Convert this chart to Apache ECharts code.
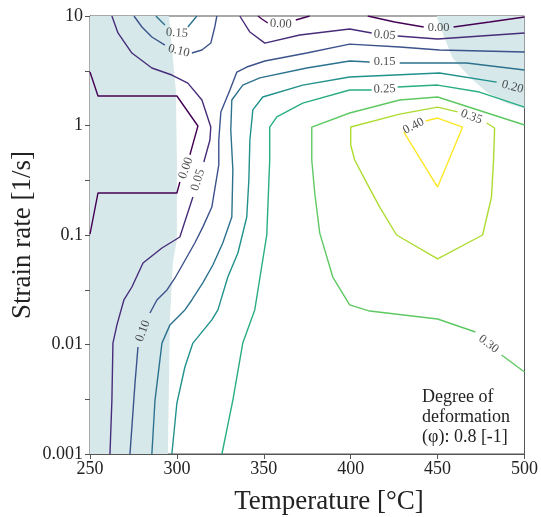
<!DOCTYPE html>
<html><head><meta charset="utf-8">
<script src="https://cdn.jsdelivr.net/npm/echarts/dist/echarts.min.js"></script>
<style>html,body{margin:0;padding:0;background:#fff}#c{width:541px;height:517px}</style>
</head><body><div id="c"></div>
<script>
// ---------- data (Temperature [°C], Strain rate [1/s]) ----------
const temperatureTicks = [250, 300, 350, 400, 450, 500];
const strainRateTicks = [0.001, 0.01, 0.1, 1, 10];
const strainRateTickLabels = ['0.001', '0.01', '0.1', '1', '10'];
const levels = [0.00, 0.05, 0.10, 0.15, 0.20, 0.25, 0.30, 0.35, 0.40];

const contour000 = [
  [[250,3.08],[254.6,1.86],[300.0,1.86],[312.1,0.989],[307.5,0.54]],
  [[301.7,0.305],[300.0,0.242],[254.6,0.242],[250,0.102]],
  [[346.6,10],[348.9,9.39],[352.3,8.63]],
  [[368.4,9.19],[376.4,10]],
  [[409.8,10],[425.3,8.81],[442.0,7.94]],
  [[459.2,7.94],[479.9,8.81],[500,9.79]]
];
const contour005 = [
  [[262.6,10],[266.1,7.00],[274.1,4.59],[285.6,3.35],[297.1,2.89],[306.3,2.44],[314.4,1.71],[319.5,0.968],[319.0,0.738],[315.5,0.464]],
  [[309.2,0.222],[301.7,0.0959],[291.4,0.0761],[280.5,0.0555],[274.1,0.0335],[269.5,0.0255],[265.5,0.0151],[263.2,0.0103],[262.6,0.00311],[261.5,0.001]],
  [[336.2,10],[342.0,7.14],[350.6,5.66],[370.7,6.70],[399.4,7.61],[412.1,7.00]],
  [[427.0,6.56],[450.0,6.17],[500,7.00]]
];
const contour010 = [
  [[275.3,10],[279.9,7.94],[285.6,6.43],[293.1,5.43]],
  [[308.6,4.59],[314.4,4.89],[319.5,5.66],[321.8,7.94],[323.0,10]],
  [[500,4.69],[451.1,4.89],[428.2,5.21],[399.4,5.54],[374.7,4.59],[350.6,3.88],[340.2,3.42],[334.5,3.08],[330.5,2.11],[325.3,1.33],[324.1,0.738],[324.1,0.436],[320.1,0.180],[314.9,0.118],[310.3,0.0845],[298.9,0.0405],[294.3,0.0315],[288.5,0.0255],[284.5,0.0194]],
  [[277.6,0.00948],[275.9,0.00445],[273.0,0.001]]
];
const contour015 = [
  [[287.9,10],[293.1,8.28]],
  [[306.3,7.94],[311.5,10]],
  [[500,3.21],[466.7,3.72],[450,3.72],[428.2,3.72]],
  [[410.9,3.80],[399.4,3.88],[374.7,3.35],[347.7,2.72],[337.9,2.34],[331.6,1.71],[331.0,0.910],[332.2,0.393],[331.6,0.146],[326.4,0.0845],[320.7,0.0532],[314.9,0.0365],[308.6,0.0255],[304.6,0.0207],[296.0,0.0151],[291.4,0.0103],[287.4,0.00311],[285.6,0.001]]
];
const contour020 = [
  [[484.0,2.49],[451.1,3.02],[399.4,2.77],[372.4,2.34],[349.4,1.82],[343.7,1.39],[342.0,0.738],[341.4,0.318],[340.2,0.146],[335.1,0.0685],[329.3,0.0413],[323.6,0.0207],[320.1,0.0168],[309.2,0.0103],[304.6,0.00623],[300.0,0.00292],[297.1,0.001]]
];
const contour025 = [
  [[500,1.47],[474.1,2.02],[450,2.34],[427.0,2.25]],
  [[412.1,2.11],[399.4,2.11],[372.4,1.60],[357.5,1.20],[353.4,0.968],[353.4,0.484],[351.7,0.100],[344.8,0.0207],[337.9,0.0103],[332.2,0.00311],[325.9,0.001]]
];
const contour030 = [
  [[500,1.01],[450,1.82],[428.2,1.71],[399.4,1.30],[377.6,0.968],[377.6,0.484],[379.3,0.242],[382.2,0.104],[389.7,0.0413],[399.4,0.0230],[410.9,0.0202],[450,0.0171],[471.8,0.0130]],
  [[486.8,0.00802],[500,0.00561]]
];
const contour035 = [
  [[478.2,1.054],[482.8,0.949],[482.2,0.484],[481.0,0.222],[475.9,0.100],[450,0.0604],[426.4,0.100],[416.7,0.180],[409.2,0.299],[402.3,0.484],[400.0,0.664],[400.0,0.969],[428.2,1.27],[450,1.47],[461.5,1.33]]
];
const contour040 = [
  [[443.1,1.10],[450,1.17],[464.4,0.968],[450,0.274],[430.5,0.873]]
];
const contours = [contour000, contour005, contour010, contour015, contour020, contour025, contour030, contour035, contour040];

// inline contour labels: [temperature, strain rate, text]
const labelPositions = [
  [305.2, 0.409, '0.00'], [359.8, 8.45, '0.00'], [450.6, 7.77, '0.00'],
  [312.1, 0.318, '0.05'], [419.5, 6.70, '0.05'],
  [301.1, 4.79, '0.10'], [280.5, 0.0133, '0.10'],
  [300.0, 7.00, '0.15'], [419.5, 3.80, '0.15'],
  [493.1, 2.25, '0.20'],
  [419.5, 2.15, '0.25'],
  [479.3, 0.0101, '0.30'],
  [469.5, 1.20, '0.35'],
  [436.2, 0.989, '0.40']
];
const labelAngles = [70, -3, 0, 73, -5, -14, 70, -3, 0, -15, 2, -38, -21, 27];

// shaded (instability) regions
const instabilityLeft = [[250,10],[295.4,10],[299.4,2.11],[300,0.484],[300,0.090],[297.7,0.0566],[296,0.0168],[294.8,0.001],[250,0.001]];
const instabilityTopRight = [[449.4,10],[452.9,7.0],[458.6,4.13],[468.4,2.77],[478.2,2.02],[489.7,1.60],[500,1.44],[500,10]];
const instabilityRegions = [instabilityLeft, instabilityTopRight];

// ---------- style ----------
const levelColors = ['#440154','#472c7a','#3b528b','#2c728e','#21918c','#28ae80','#5ec962','#addc30','#fde725'];
const SERIF = '"Liberation Serif", "DejaVu Serif", serif';
const lg = v => Math.log10(v);

const series = [];
series.push({
  type: 'custom', coordinateSystem: 'cartesian2d', silent: true, z: 1,
  data: instabilityRegions.map((r, i) => [r[0][0], lg(r[0][1])]),
  renderItem: function (params, api) {
    const pts = instabilityRegions[params.dataIndex].map(p => api.coord([p[0], lg(p[1])]));
    return { type: 'polygon', shape: { points: pts }, style: { fill: '#d7e8ea' } };
  }
});
contours.forEach((segs, li) => {
  segs.forEach(seg => {
    series.push({
      type: 'line', z: 3, silent: true, symbol: 'none', smooth: false,
      lineStyle: { color: levelColors[li], width: 1.4 },
      data: seg.map(p => [p[0], lg(p[1])])
    });
  });
});
series.push({
  type: 'scatter', z: 5, silent: true, symbolSize: 0,
  data: labelPositions.map((p, i) => ({ value: [p[0], lg(p[1])], name: p[2], label: { rotate: labelAngles[i] } })),
  label: { show: true, position: 'inside', formatter: '{b}', fontFamily: SERIF, fontSize: 12.5, color: '#222' }
});

const chart = echarts.init(document.getElementById('c'));
chart.setOption({
  animation: false,
  backgroundColor: '#fff',
  grid: { left: 90, right: 16, top: 16, bottom: 63, show: true, borderColor: '#555', borderWidth: 1, backgroundColor: 'transparent' },
  xAxis: {
    type: 'value', min: temperatureTicks[0], max: temperatureTicks[temperatureTicks.length - 1], interval: 50,
    axisLine: { show: true, onZero: false, lineStyle: { color: '#555' } },
    axisTick: { show: true, inside: false, length: 5, lineStyle: { color: '#555' } },
    axisLabel: { fontFamily: SERIF, fontSize: 18, color: '#222', margin: 6 },
    splitLine: { show: false }
  },
  yAxis: {
    type: 'value', min: lg(strainRateTicks[0]), max: lg(strainRateTicks[strainRateTicks.length - 1]), interval: 0.5,
    axisLine: { show: true, onZero: false, lineStyle: { color: '#555' } },
    axisTick: { show: true, inside: false, length: 5, lineStyle: { color: '#555' } },
    axisLabel: {
      fontFamily: SERIF, fontSize: 18, color: '#222', margin: 7,
      formatter: v => {
        const i = strainRateTicks.findIndex(t => Math.abs(lg(t) - v) < 1e-6);
        return i >= 0 ? strainRateTickLabels[i] : '';
      }
    },
    splitLine: { show: false }
  },
  graphic: [
    { type: 'text', x: 329, y: 502, silent: true,
      style: { text: 'Temperature [°C]', font: '27px ' + SERIF, fill: '#222', align: 'center', verticalAlign: 'middle', textAlign: 'center', textVerticalAlign: 'middle' } },
    { type: 'text', x: 23, y: 235, rotation: Math.PI / 2, silent: true,
      style: { text: 'Strain rate [1/s]', font: '27px ' + SERIF, fill: '#222', align: 'center', verticalAlign: 'middle', textAlign: 'center', textVerticalAlign: 'middle' } },
    { type: 'text', x: 422, y: 387, silent: true, z: 10,
      style: { text: 'Degree of\ndeformation\n(φ): 0.8 [-1]', font: '18px ' + SERIF, lineHeight: 20, fill: '#222', align: 'left', verticalAlign: 'top', textAlign: 'left', textVerticalAlign: 'top' } }
  ],
  series: series
});
</script></body></html>
